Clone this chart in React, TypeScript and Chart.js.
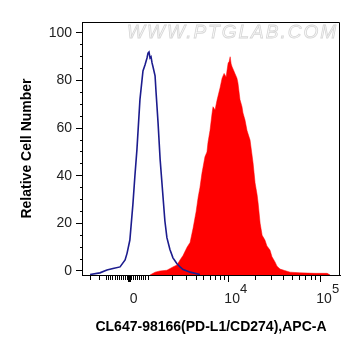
import React, { useEffect, useRef } from "react";
import { Chart, registerables } from "chart.js";

Chart.register(...registerables);

// x values are display channels (0..1024) of the biexponential APC-A axis
const isotypeX = [32, 71, 99, 123, 151, 171, 179, 190, 202, 210, 218, 230, 242, 250, 258, 262, 266, 270, 274, 278, 282, 290, 294, 302, 310, 318, 329, 337, 349, 361, 377, 389, 401, 417, 429, 468];
const isotypeY = [-1.5, -0.8, 0.4, 1.0, 1.7, 4.6, 7.5, 13, 28, 40, 51, 72, 84, 86.5, 89.5, 91.5, 92, 89.5, 90, 87.4, 85.7, 82, 75, 62, 47, 36, 21, 14, 9, 5.5, 3, 1.7, 0.6, 0, -0.5, -1.5];

const stainedX = [270, 290, 310, 337, 361, 377, 389, 401, 417, 429, 441, 453, 461, 468, 476, 488, 496, 500, 508, 516, 520, 528, 536, 548, 556, 564, 572, 576, 580, 584, 588, 592, 596, 607, 615, 619, 627, 635, 639, 647, 655, 667, 679, 687, 695, 699, 707, 715, 726, 734, 746, 754, 766, 774, 786, 804, 826, 865, 925, 973, 985];
const stainedY = [-1.7, -0.5, 0, 0.3, 1.7, 2.5, 4.6, 6.5, 10, 12, 18, 25, 31, 35, 41, 48, 50, 54, 59, 66, 69, 67.6, 71.8, 77, 81, 83, 81.5, 84.5, 87.4, 88, 90, 87, 85.7, 83, 81, 79, 72, 69, 66.4, 63.4, 59, 55, 45.4, 37, 32, 28.6, 20, 15, 13, 10.5, 8.8, 6, 3.8, 2, 0.8, 0.2, -0.5, -0.8, -1, -1, -1.7];

const xMajorTicks = [189, 580, 945];
const xMajorLabels = ["0", "10", "10"];
const xMajorExponents = ["", "4", "5"];
const xMinorTicks = [32, 71, 99, 107, 115, 123, 131, 139, 147, 155, 163, 171, 179, 198, 206, 214, 222, 230, 238, 246, 254, 262, 358, 414, 453, 484, 509, 530, 549, 565, 690, 753, 799, 834, 863, 888, 909, 928];

const yMin = -1.7;
const yMax = 104.6;
const yStep = 5;
const yLabelStep = 20;

const xTitle = "CL647-98166(PD-L1/CD274),APC-A";
const yTitle = "Relative Cell Number";
const watermark = "WWW.PTGLAB.COM";

const FONT = "'Liberation Sans', Arial, sans-serif";
const TICK_FONT_SIZE = 14;
const X_LABEL_OFFSET = 4;

export default function App() {
  const ref = useRef<HTMLCanvasElement | null>(null);

  useEffect(() => {
    if (!ref.current) return;
    const allTicks = [...xMinorTicks, ...xMajorTicks].sort((a, b) => a - b);

    const boxPlugin = {
      id: "box",
      beforeDatasetsDraw(chart: any) {
        const { ctx, chartArea } = chart;
        ctx.save();
        ctx.font = `italic 19px ${FONT}`;
        (ctx as any).letterSpacing = "2px";
        ctx.textAlign = "right";
        ctx.textBaseline = "middle";
        ctx.fillStyle = "#fbfbfb";
        ctx.strokeStyle = "#d6d6d6";
        ctx.lineWidth = 0.8;
        const x = chartArea.right - 2;
        const y = chartArea.top + 11;
        ctx.fillText(watermark, x, y);
        ctx.strokeText(watermark, x, y);
        ctx.restore();
      },
      afterDraw(chart: any) {
        const { ctx, chartArea } = chart;
        ctx.save();
        ctx.strokeStyle = "#000";
        ctx.lineWidth = 1;
        const l = Math.round(chartArea.left) + 0.5;
        const t = Math.round(chartArea.top) + 0.5;
        const r = Math.round(chartArea.right) - 0.5;
        const b = Math.round(chartArea.bottom) + 0.5;
        ctx.beginPath();
        ctx.moveTo(l, t);
        ctx.lineTo(r, t);
        ctx.lineTo(r, b);
        ctx.stroke();

        // exponents of the decade labels
        const xs = chart.scales.x;
        ctx.font = `${TICK_FONT_SIZE - 1}px ${FONT}`;
        ctx.fillStyle = "#222";
        ctx.textAlign = "left";
        ctx.textBaseline = "top";
        xMajorTicks.forEach((v, i) => {
          const e = xMajorExponents[i];
          if (!e) return;
          ctx.font = `${TICK_FONT_SIZE}px ${FONT}`;
          const w = ctx.measureText(xMajorLabels[i]).width;
          const px = xs.getPixelForValue(v) + X_LABEL_OFFSET + w / 2;
          ctx.font = `${TICK_FONT_SIZE - 1}px ${FONT}`;
          ctx.fillText(e, px, xs.top + 8);
        });
        ctx.restore();
      },
    };

    const chart = new Chart(ref.current, {
      type: "line",
      data: {
        datasets: [
          {
            label: "Isotype",
            data: isotypeX.map((x, i) => ({ x, y: isotypeY[i] })),
            borderColor: "#1c1c8e",
            borderWidth: 1.6,
            pointRadius: 0,
            fill: false,
            tension: 0,
          },
          {
            label: "CL647-98166",
            data: stainedX.map((x, i) => ({ x, y: stainedY[i] })),
            borderColor: "#ff0000",
            borderWidth: 0.5,
            backgroundColor: "#ff0000",
            pointRadius: 0,
            fill: "start",
            tension: 0,
          },
        ],
      },
      options: {
        responsive: false,
        animation: false,
        layout: { padding: { left: 0, right: 21, top: 22, bottom: 0 } },
        plugins: {
          legend: { display: false },
          tooltip: { enabled: false },
        },
        scales: {
          x: {
            type: "linear",
            min: 0,
            max: 1024,
            afterFit: (s: any) => {
              s.height = 81;
            },
            afterBuildTicks: (s: any) => {
              s.ticks = allTicks.map((v) => ({ value: v }));
            },
            ticks: {
              autoSkip: false,
              maxRotation: 0,
              padding: 9,
              labelOffset: X_LABEL_OFFSET,
              color: "#222",
              font: { family: FONT, size: TICK_FONT_SIZE },
              callback: (v: any) => {
                const i = xMajorTicks.indexOf(Number(v));
                return i >= 0 ? xMajorLabels[i] : "";
              },
            },
            grid: {
              drawOnChartArea: false,
              tickLength: 7,
              tickColor: "#000",
              tickWidth: (c: any) => (c.tick && Number(c.tick.value) === xMajorTicks[0] ? 3 : 1),
              tickBorderDash: (c: any) =>
                c.tick && xMajorTicks.indexOf(Number(c.tick.value)) >= 0 ? [] : [4, 20],
            },
            border: { color: "#000", width: 1 },
            title: {
              display: true,
              text: xTitle,
              color: "#000",
              font: { family: FONT, size: 14, weight: "bold" },
              padding: { top: 0, bottom: 20 },
            },
          },
          y: {
            type: "linear",
            min: yMin,
            max: yMax,
            afterFit: (s: any) => {
              s.width = 82;
            },
            ticks: {
              stepSize: yStep,
              includeBounds: false,
              autoSkip: false,
              padding: 4,
              color: "#222",
              font: { family: FONT, size: TICK_FONT_SIZE },
              callback: (v: any) => (Number(v) % yLabelStep === 0 ? String(v) : ""),
            },
            grid: {
              drawOnChartArea: false,
              tickLength: 6,
              tickColor: "#000",
              tickBorderDash: (c: any) =>
                c.tick && Number(c.tick.value) % yLabelStep === 0 ? [] : [0, 4, 2, 20],
            },
            border: { color: "#000", width: 1 },
            title: {
              display: true,
              text: yTitle,
              color: "#000",
              font: { family: FONT, size: 14, weight: "bold" },
              padding: { top: 19, bottom: 0 },
            },
          },
        },
      },
      plugins: [boxPlugin],
    } as any);

    return () => chart.destroy();
  }, []);

  return (
    <div style={{ position: "fixed", left: 0, top: 0, width: 361, height: 356, background: "#fff" }}>
      <canvas ref={ref} width={361} height={356} style={{ display: "block" }} />
    </div>
  );
}
